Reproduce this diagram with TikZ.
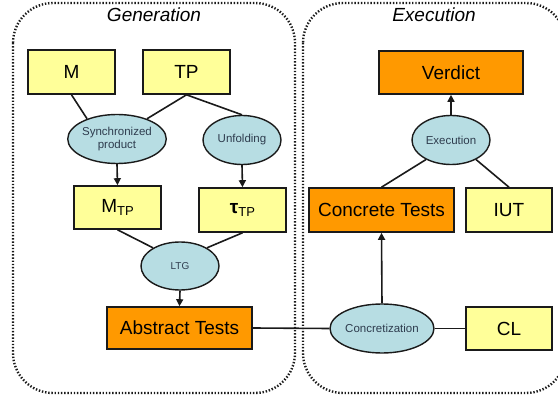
\documentclass[tikz,border=0pt]{standalone}
\usepackage{fontspec}
\setmainfont{Liberation Sans}
\usetikzlibrary{shapes.geometric,arrows.meta}
\definecolor{boxyellow}{HTML}{FFFF99}
\definecolor{boxorange}{HTML}{FF9900}
\definecolor{ellblue}{HTML}{B7DDE3}
\definecolor{elltext}{HTML}{2E3C4E}
\definecolor{edgecol}{HTML}{1A1A1A}
\tikzset{
  ybox/.style={draw=edgecol, line width=1.6pt, fill=boxyellow, inner sep=0pt, minimum width=87pt, minimum height=44pt, font=\fontsize{19}{20}\selectfont},
  obox/.style={ybox, fill=boxorange},
  proc/.style={ellipse, draw=edgecol, line width=1.4pt, fill=ellblue, inner sep=0pt, minimum width=78pt, minimum height=49pt, text=elltext, align=center, font=\fontsize{11.5}{13}\selectfont},
  conn/.style={draw=edgecol, line width=1.6pt},
  arr/.style={conn, -{Triangle[length=7pt,width=7pt]}},
  zone/.style={draw=edgecol, line width=2.4pt, dash pattern=on 1.4pt off 1.8pt, rounded corners=40pt},
  title/.style={font=\fontsize{19}{20}\selectfont\itshape}
}
\newcommand{\sbs}[1]{\raisebox{-0.35ex}{\fontsize{13}{13}\selectfont #1}}
\begin{document}
\begin{tikzpicture}[x=1pt,y=-1pt]
\useasboundingbox (0,0) rectangle (558,401);
\begin{scope}
\clip (0,0) rectangle (558,401);
\draw[zone] (13,3) rectangle (295,393);
\draw[zone] (303,3) rectangle (566,393);
\end{scope}
\node[title] (gentitle) at (154,15) {Generation};
\node[title] (exetitle) at (434,15) {Execution};
% Generation
\node[ybox] (M) at (71.5,72) {M};
\node[ybox] (TP) at (186.5,72) {TP};
\node[proc] (sync) at (117,139) {Synchronized\\product};
\node[proc] (unf) at (242,140) {Unfolding};
\node[ybox, minimum height=43pt] (MTP) at (117.5,207.5) {M\sbs{TP}};
\node[ybox] (tTP) at (242.5,210) {\textbf{τ}\sbs{TP}};
\node[proc, minimum height=48pt, font=\fontsize{10}{11}\selectfont] (ltg) at (180,266) {LTG};
\node[obox, minimum width=145pt, minimum height=42pt] (abs) at (179.5,328) {Abstract Tests};
% Execution
\node[obox, minimum width=144pt, minimum height=43pt] (ver) at (451,72.5) {Verdict};
\node[proc] (exe) at (451,140) {Execution};
\node[obox, minimum width=145pt] (con) at (381.5,210) {Concrete Tests};
\node[ybox, minimum width=86pt] (iut) at (509,210) {IUT};
\node[proc] (concr) at (382,328.5) {Concretization};
\node[ybox, minimum width=86pt, minimum height=43pt] (cl) at (509,328.5) {CL};
% connectors
\draw[conn] (M.south) -- (sync.146);
\draw[conn] (TP.south) -- (sync.34);
\draw[conn] (TP.south) -- (unf.north);
\draw[arr] (sync.south) -- (MTP.north);
\draw[arr] (unf.south) -- (tTP.north);
\draw[conn] (MTP.south) -- (ltg.146);
\draw[conn] (tTP.south) -- (ltg.34);
\draw[arr] (ltg.south) -- (abs.north);
\draw[conn] (abs.east) -- (concr.west);
\draw[conn] (concr.east) -- (cl.west);
\draw[arr] (concr.north) -- (con.south);
\draw[conn] (exe.218) -- (con.north);
\draw[conn] (exe.322) -- (iut.north);
\draw[arr] (exe.north) -- (ver.south);
\end{tikzpicture}
\end{document}
